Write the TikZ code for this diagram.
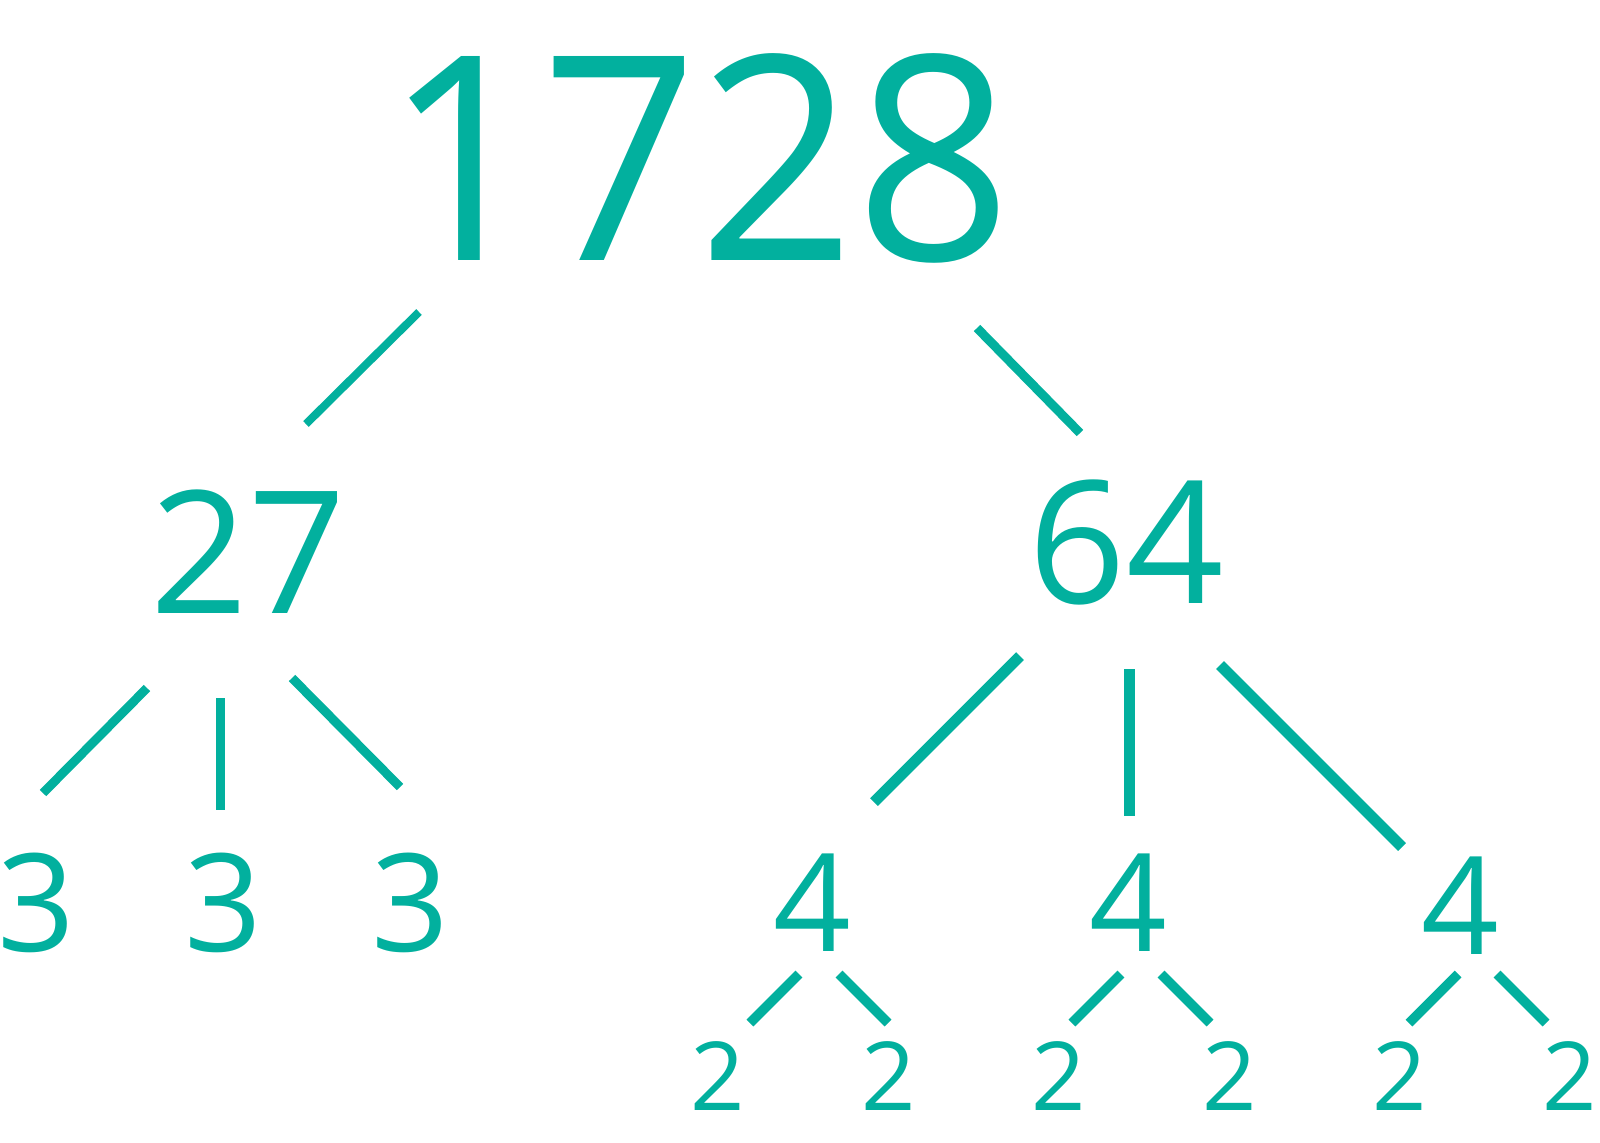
\documentclass[tikz,border=0pt]{standalone}
\usepackage{fontspec}
\setmainfont{Open Sans}
\definecolor{treeteal}{HTML}{02B09E}
\begin{document}
\begin{tikzpicture}[x=0.5pt,y=-0.5pt,
  num/.style={inner sep=0pt,text=treeteal},
  big/.style={num,font=\fontsize{142.9}{150}\selectfont},
  mid/.style={num,font=\fontsize{85.4}{90}\selectfont},
  small/.style={num,font=\fontsize{68}{72}\selectfont},
  tiny/.style={num,font=\fontsize{47.6}{50}\selectfont},
  branch/.style={draw=treeteal,line cap=butt}]
\useasboundingbox (0,0) rectangle (1600,1142);
% numbers
\node[big] (n1728) at (698,158) {\scalebox{0.96}[1]{1728}};
\node[mid] (n27) at (248,552) {27};
\node[mid] (n64) at (1126,542) {64};
\node[small] (t1) at (36,903) {3};
\node[small] (t2) at (223,903) {3};
\node[small] (t3) at (410,903) {3};
\node[small] (f1) at (812,903) {4};
\node[small] (f2) at (1128,903) {4};
\node[small] (f3) at (1460,906) {4};
\node[tiny] (w1) at (718,1076) {2};
\node[tiny] (w2) at (889,1076) {2};
\node[tiny] (w3) at (1059,1076) {2};
\node[tiny] (w4) at (1230,1076) {2};
\node[tiny] (w5) at (1400,1076) {2};
\node[tiny] (w6) at (1570,1076) {2};
% branch end points
\coordinate (a1) at (419,312); \coordinate (a2) at (306,424);
\coordinate (b1) at (977,328); \coordinate (b2) at (1080,433);
\coordinate (c1) at (147,688); \coordinate (c2) at (43,793);
\coordinate (d1) at (220,698); \coordinate (d2) at (220,810);
\coordinate (e1) at (292,678); \coordinate (e2) at (400,787);
\coordinate (g1) at (1020,656); \coordinate (g2) at (874,802);
\coordinate (h1) at (1129,669); \coordinate (h2) at (1129,816);
\coordinate (i1) at (1220,665); \coordinate (i2) at (1402,847);
\coordinate (j1) at (799,974); \coordinate (j2) at (750,1023);
\coordinate (k1) at (839,974); \coordinate (k2) at (888,1023);
\coordinate (l1) at (1121,974); \coordinate (l2) at (1072,1023);
\coordinate (m1) at (1161,974); \coordinate (m2) at (1210,1023);
\coordinate (o1) at (1458,974); \coordinate (o2) at (1409,1023);
\coordinate (p1) at (1497,974); \coordinate (p2) at (1546,1023);
% branches
\draw[branch,line width=4pt] (a1) -- (a2);
\draw[branch,line width=4.5pt] (b1) -- (b2);
\draw[branch,line width=4.5pt] (c1) -- (c2);
\draw[branch,line width=4.5pt] (d1) -- (d2);
\draw[branch,line width=4.5pt] (e1) -- (e2);
\draw[branch,line width=5.5pt] (g1) -- (g2);
\draw[branch,line width=5.5pt] (h1) -- (h2);
\draw[branch,line width=5.5pt] (i1) -- (i2);
\draw[branch,line width=4.8pt] (j1) -- (j2);
\draw[branch,line width=4.8pt] (k1) -- (k2);
\draw[branch,line width=4.8pt] (l1) -- (l2);
\draw[branch,line width=4.8pt] (m1) -- (m2);
\draw[branch,line width=4.8pt] (o1) -- (o2);
\draw[branch,line width=4.8pt] (p1) -- (p2);
\end{tikzpicture}
\end{document}
